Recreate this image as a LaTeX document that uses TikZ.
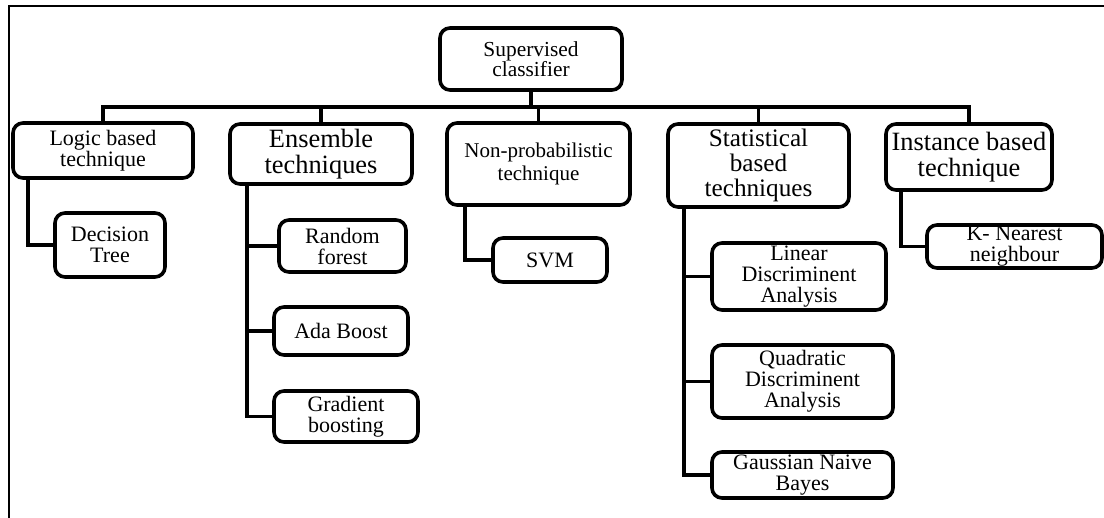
\documentclass[tikz,border=0pt]{standalone}
\usepackage{fontspec}
\setmainfont{Liberation Serif}
\usetikzlibrary{positioning}

\begin{document}
\begin{tikzpicture}[x=0.5pt, y=-0.5pt,
  b/.style={draw, line width=1.8pt, rounded corners=5pt, align=center, inner sep=0pt,
    font=\fontsize{11}{10.5}\selectfont},
  bb/.style={b, font=\fontsize{13.2}{12.8}\selectfont},
  ln/.style={line width=1.8pt}]
\useasboundingbox (0,0) rectangle (1104,518);
\draw[line width=1pt] (9,518) -- (9,6) -- (1104,6);
% root and first level
\node[b, minimum width=91pt, minimum height=31pt, font=\fontsize{10.7}{10}\selectfont] (sup) at (531,59) {Supervised\\classifier};
\node[b, minimum width=90pt, minimum height=27.5pt] (logic) at (103,150.5) {Logic based\\technique};
\node[bb, minimum width=91pt, minimum height=30pt] (ens) at (321,154) {Ensemble\\techniques};
\node[b, minimum width=91.5pt, minimum height=41pt, font=\fontsize{10.5}{11.5}\selectfont] (nonp) at (538.5,164) {Non-probabilistic\\technique};
\node[bb, minimum width=90.5pt, minimum height=41.5pt, font=\fontsize{12.6}{12.5}\selectfont] (stat) at (758.5,165.5) {Statistical\\based\\techniques};
\node[bb, minimum width=83pt, minimum height=33pt] (inst) at (969,157) {Instance based\\technique};
% second level
\node[b, minimum width=55pt, minimum height=32pt] (dt) at (110,245) {Decision\\Tree};
\node[b, minimum width=63.5pt, minimum height=26pt] (rf) at (342.5,246) {Random\\forest};
\node[b, minimum width=67pt, minimum height=24pt] (ada) at (341,331) {Ada Boost};
\node[b, minimum width=72pt, minimum height=25.5pt] (gb) at (346,416.5) {Gradient\\boosting};
\node[b, minimum width=57pt, minimum height=22pt] (svm) at (550,260) {SVM};
\node[b, minimum width=87pt, minimum height=33.5pt] (lda) at (799,276.5) {Linear\\Discriminent\\Analysis};
\node[b, minimum width=90.5pt, minimum height=36.5pt] (qda) at (802.5,381.5) {Quadratic\\Discriminent\\Analysis};
\node[b, minimum width=90.5pt, minimum height=23pt] (gnb) at (802.5,475) {Gaussian Naive\\Bayes};
\node[b, minimum width=87.5pt, minimum height=21.5pt] (knn) at (1014.5,246.5) {K- Nearest\\neighbour};
% bus
\coordinate (bus) at (0,107);
\draw[ln] (sup.south) -- (sup.south |- bus);
\draw[ln] (logic.north) -- (logic.north |- bus) -- (inst.north |- bus) -- (inst.north);
\foreach \n in {ens,nonp,stat} \draw[ln] (\n.north) -- (\n.north |- bus);
% trunks
\coordinate (lt) at ([xshift=8.5pt]logic.south west);
\draw[ln] (lt) |- (dt.west);
\coordinate (et) at ([xshift=9.5pt]ens.south west);
\draw[ln] (et) |- (gb.west);
\foreach \c in {rf,ada} \draw[ln] (\c.west -| et) -- (\c.west);
\coordinate (nt) at ([xshift=10pt]nonp.south west);
\draw[ln] (nt) |- (svm.west);
\coordinate (st) at ([xshift=9pt]stat.south west);
\draw[ln] (st) |- (gnb.west);
\foreach \c in {lda,qda} \draw[ln] (\c.west -| st) -- (\c.west);
\coordinate (it) at ([xshift=8.5pt]inst.south west);
\draw[ln] (it) |- (knn.west);
\end{tikzpicture}
\end{document}
